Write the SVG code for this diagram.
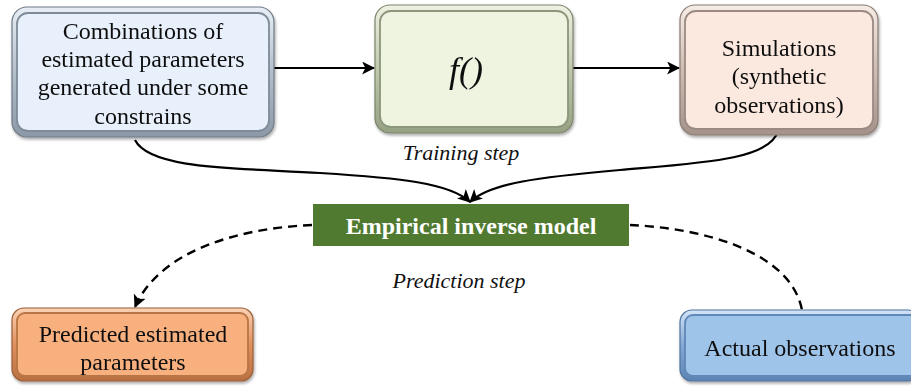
<svg xmlns="http://www.w3.org/2000/svg" width="911" height="387" viewBox="0 0 911 387">
<style>
.t{font-family:"Liberation Serif","Times New Roman",serif;font-size:24px;fill:#111;text-anchor:middle}
.it{font-family:"Liberation Serif","Times New Roman",serif;font-style:italic;font-size:22px;fill:#111;text-anchor:middle}
.conn{fill:none;stroke:#000;stroke-width:2.2}
.dash{fill:none;stroke:#000;stroke-width:2.4;stroke-dasharray:9 6}
.outer{stroke-width:1.2}
.inner{stroke-width:1.8}
</style>
<defs>
<marker id="arr" viewBox="0 0 12 12" refX="11" refY="6" markerWidth="13" markerHeight="13" markerUnits="userSpaceOnUse" orient="auto">
<path d="M0,0 L12,6 L0,12 L3,6 Z" fill="#000"/>
</marker>
<filter id="sh" x="-10%" y="-10%" width="120%" height="125%">
<feGaussianBlur in="SourceAlpha" stdDeviation="1.5"/>
<feOffset dx="1" dy="2" result="b"/>
<feComponentTransfer><feFuncA type="linear" slope="0.35"/></feComponentTransfer>
<feMerge><feMergeNode/><feMergeNode in="SourceGraphic"/></feMerge>
</filter>
<linearGradient id="gBlue" x1="0" y1="0" x2="0" y2="1"><stop offset="0" stop-color="#e8eef5"/><stop offset="0.5" stop-color="#b4bfcc"/><stop offset="1" stop-color="#8c98a6"/></linearGradient>
<linearGradient id="gGreen" x1="0" y1="0" x2="0" y2="1"><stop offset="0" stop-color="#eef2e2"/><stop offset="0.5" stop-color="#bfc8ad"/><stop offset="1" stop-color="#96a083"/></linearGradient>
<linearGradient id="gPeach" x1="0" y1="0" x2="0" y2="1"><stop offset="0" stop-color="#f6ece6"/><stop offset="0.5" stop-color="#cdbdb3"/><stop offset="1" stop-color="#a4928a"/></linearGradient>
<linearGradient id="gOrange" x1="0" y1="0" x2="0" y2="1"><stop offset="0" stop-color="#fbd2b3"/><stop offset="0.5" stop-color="#e0915f"/><stop offset="1" stop-color="#b86f40"/></linearGradient>
<linearGradient id="gSky" x1="0" y1="0" x2="0" y2="1"><stop offset="0" stop-color="#d3e4f6"/><stop offset="0.5" stop-color="#84a9d3"/><stop offset="1" stop-color="#5d83b3"/></linearGradient>
</defs>
<rect width="911" height="387" fill="#fff"/>

<g id="connectors">
<path class="conn" d="M273,68 L374,68" marker-end="url(#arr)"/>
<path class="conn" d="M573,68 L679,68" marker-end="url(#arr)"/>
<path class="conn" d="M135,140 C150,170 240,168 320,173 C400,178 450,183 470,202" marker-end="url(#arr)"/>
<path class="conn" d="M778,131 C770,160 700,163 620,170 C540,177 490,183 470,202" marker-end="url(#arr)"/>
<path class="dash" d="M312,225 C240,228 160,250 135,307" marker-end="url(#arr)"/>
<path class="dash" d="M630,225 C700,228 790,250 802,310"/>
</g>

<g id="node-combinations" filter="url(#sh)">
<rect class="outer" x="12" y="7" width="262" height="130" rx="15" fill="url(#gBlue)" stroke="#6f7b88"/>
<rect class="inner" x="17" y="13" width="252" height="118" rx="11" fill="#e7f0fb" stroke="#7f8b98"/>
<text class="t" x="143" y="39">Combinations of</text>
<text class="t" x="143" y="67">estimated parameters</text>
<text class="t" x="143" y="95">generated under some</text>
<text class="t" x="143" y="124">constrains</text>
</g>

<g id="node-f" filter="url(#sh)">
<rect class="outer" x="375" y="5" width="198" height="128" rx="15" fill="url(#gGreen)" stroke="#7c856c"/>
<rect class="inner" x="380" y="11" width="188" height="116" rx="11" fill="#eef4e0" stroke="#8c967a"/>
<text x="466" y="82" style="font-family:'Liberation Serif','Times New Roman',serif;font-style:italic;font-size:36px;fill:#111;text-anchor:middle">f()</text>
</g>

<g id="node-simulations" filter="url(#sh)">
<rect class="outer" x="680" y="5" width="198" height="130" rx="15" fill="url(#gPeach)" stroke="#8a7a72"/>
<rect class="inner" x="685" y="11" width="188" height="118" rx="11" fill="#fbe8de" stroke="#9a8a82"/>
<text class="t" x="779" y="56">Simulations</text>
<text class="t" x="779" y="84">(synthetic</text>
<text class="t" x="779" y="113">observations)</text>
</g>

<text class="it" x="461" y="160">Training step</text>

<g id="node-model">
<rect x="313" y="204" width="316" height="42" fill="#4f7a2f"/>
<text x="471" y="234" style="font-family:'Liberation Serif','Times New Roman',serif;font-weight:bold;font-size:24px;fill:#fff;text-anchor:middle">Empirical inverse model</text>
</g>

<text class="it" x="459" y="288">Prediction step</text>

<g id="node-predicted" filter="url(#sh)">
<rect class="outer" x="12" y="308" width="241" height="73" rx="12" fill="url(#gOrange)" stroke="#9c5f38"/>
<rect class="inner" x="17" y="313" width="231" height="63" rx="8" fill="#f9b07f" stroke="#b87544"/>
<text class="t" x="133" y="342">Predicted estimated</text>
<text class="t" x="133" y="370">parameters</text>
</g>

<g id="node-actual" filter="url(#sh)">
<rect class="outer" x="680" y="310" width="240" height="71" rx="12" fill="url(#gSky)" stroke="#4f74a2"/>
<rect class="inner" x="685" y="315" width="240" height="61" rx="8" fill="#9fc4ea" stroke="#6088b8"/>
<text class="t" x="800" y="356">Actual observations</text>
</g>
</svg>
